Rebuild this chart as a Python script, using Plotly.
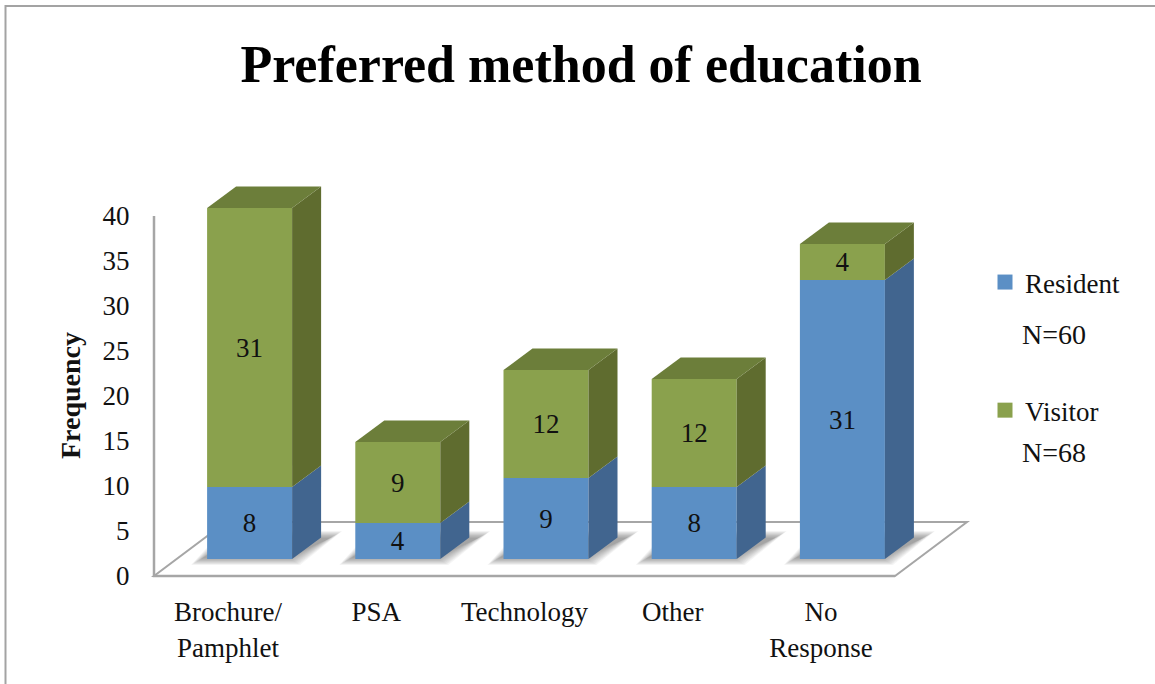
import plotly.graph_objects as go

categories = ["Brochure/<br>Pamphlet", "PSA", "Technology", "Other", "No<br>Response"]
resident = [8, 4, 9, 8, 31]
visitor = [31, 9, 12, 12, 4]
y_ticks = [0, 5, 10, 15, 20, 25, 30, 35, 40]

W, H = 1155, 684
PX0, PX1 = 154, 895      # x axis pixel span
PY0, PY1 = 576, 216      # y axis pixel span
XU = (PX1 - PX0) / 5     # px per category
YU = (PY0 - PY1) / 40    # px per value unit

FONT = "Liberation Serif"
FS = 27
INK = "#111111"
BLUE, BLUE_SIDE = "#5b8fc5", "#41658f"
GREEN, GREEN_TOP, GREEN_SIDE = "#8aa14d", "#6c7e3a", "#5f6c2f"
GRAY = "#a6a6a6"

bar_w = 85 / XU
dx = 29 / XU
dy = 21.5 / YU
floor_dx = 72 / XU
floor_dy = 54 / YU
off_x = 21.5 / XU
lift = 17 / YU

idx = list(range(len(categories)))
centers = [i + off_x for i in idx]

# axes cover the whole picture so the 3D faces are not clipped
x_range = [-0.5 - PX0 / XU, -0.5 + (W - PX0) / XU]
y_range = [-(H - PY0) / YU, PY0 / YU]

fig = go.Figure()


def poly(xs, ys, color):
    fig.add_trace(go.Scatter(x=xs + xs[:1], y=ys + ys[:1], mode="lines", fill="toself",
                             fillcolor=color, line=dict(width=0), hoverinfo="skip",
                             showlegend=False))


def path_of(xs, ys, close=True):
    return "M " + " L ".join(f"{a},{b}" for a, b in zip(xs, ys)) + (" Z" if close else "")


fig.add_trace(go.Bar(x=centers, y=resident, base=[lift] * 5, width=bar_w, name="Resident",
                     marker=dict(color=BLUE, line=dict(width=0)), text=resident,
                     textposition="inside", insidetextanchor="middle", textangle=0,
                     textfont=dict(family=FONT, size=FS, color=INK), showlegend=False))
fig.add_trace(go.Bar(x=centers, y=visitor, base=[lift + r for r in resident], width=bar_w,
                     name="Visitor", marker=dict(color=GREEN, line=dict(width=0)), text=visitor,
                     textposition="inside", insidetextanchor="middle", textangle=0,
                     textfont=dict(family=FONT, size=FS, color=INK), showlegend=False))

shapes = []
# floor
fx = [-0.5, 4.5, 4.5 + floor_dx, -0.5 + floor_dx]
fy = [0, 0, floor_dy, floor_dy]
shapes.append(dict(type="path", path=path_of(fx, fy), xref="x", yref="y", layer="below",
                   fillcolor="white", line=dict(color=GRAY, width=2)))

# soft floor shadow and 3D faces
for c, r, v in zip(centers, resident, visitor):
    x0, x1 = c - bar_w / 2, c + bar_w / 2
    for k in range(12):
        g = k * 1.1
        sx = [x0 + (-16 + g) / XU, x1 + (8 - g) / XU, x1 + (50 - g) / XU, x0 + (15 + g) / XU]
        sy = [lift + (-6 + g * 0.6) / YU, lift + (-6 + g * 0.6) / YU,
              lift + (28 - g * 0.6) / YU, lift + (28 - g * 0.6) / YU]
        shapes.append(dict(type="path", path=path_of(sx, sy), xref="x", yref="y", layer="below",
                           fillcolor="rgba(80,80,80,0.06)", line=dict(width=0)))
    y1 = lift + r
    y2 = y1 + v
    poly([x1, x1 + dx, x1 + dx, x1], [lift, lift + dy, y1 + dy, y1], BLUE_SIDE)
    poly([x1, x1 + dx, x1 + dx, x1], [y1, y1 + dy, y2 + dy, y2], GREEN_SIDE)
    poly([x0, x1, x1 + dx, x0 + dx], [y2, y2, y2 + dy, y2 + dy], GREEN_TOP)

# axis lines
shapes.append(dict(type="path", path=path_of([-0.5, -0.5, 4.5], [y_ticks[-1], 0, 0], close=False),
                   xref="x", yref="y", layer="below", line=dict(color=GRAY, width=2.5)))

# outer chart frame (open at right and bottom, running off the picture)
shapes.append(dict(type="path", path=f"M {5.5 / W},0 L {5.5 / W},{1 - 6 / H} L 1,{1 - 6 / H}",
                   xref="paper", yref="paper", line=dict(color="#a3a3a3", width=2)))

# legend entries
for name, col in (("Resident", BLUE), ("Visitor", GREEN)):
    fig.add_trace(go.Scatter(x=[None], y=[None], mode="markers", name=name, legendgroup=name,
                             marker=dict(symbol="square", size=15, color=col)))

for txt, py in (("N=60", 335), ("N=68", 453)):
    fig.add_annotation(text=txt, xref="paper", yref="paper", x=1020 / W, y=1 - py / H, xanchor="left",
                       yanchor="middle", showarrow=False, font=dict(family=FONT, size=28, color=INK))
fig.add_annotation(text="<b>Frequency</b>", xref="paper", yref="paper", x=70 / W, y=1 - 396 / H,
                   xanchor="center", yanchor="middle", textangle=-90, showarrow=False,
                   font=dict(family=FONT, size=28, color=INK))

fig.update_layout(
    width=W, height=H, margin=dict(l=0, r=0, t=0, b=0), autosize=False,
    paper_bgcolor="white", plot_bgcolor="rgba(0,0,0,0)", barmode="overlay", shapes=shapes,
    title=dict(text="<b>Preferred method of education</b>", x=581 / W, y=1 - 64 / H, xref="paper",
               yref="container", xanchor="center", yanchor="middle",
               font=dict(family=FONT, size=52, color="black")),
    xaxis=dict(domain=[0, 1], range=x_range, anchor="free", position=1 - PY0 / H, automargin=False,
               tickmode="array", tickvals=idx, ticktext=categories, showgrid=False, zeroline=False,
               showline=False, ticks="outside", ticklen=12, tickcolor="rgba(0,0,0,0)",
               tickfont=dict(family=FONT, size=FS, color=INK), tickangle=0),
    yaxis=dict(domain=[0, 1], range=y_range, anchor="free", position=PX0 / W, automargin=False,
               tickmode="array", tickvals=y_ticks, showgrid=False, zeroline=False, showline=False,
               ticks="outside", ticklen=19, tickcolor="rgba(0,0,0,0)",
               tickfont=dict(family=FONT, size=FS, color=INK)),
    legend=dict(x=985 / W, y=1 - 258 / H, xanchor="left", yanchor="top", bgcolor="rgba(0,0,0,0)",
                tracegroupgap=90, traceorder="grouped", font=dict(family=FONT, size=FS, color=INK)),
    showlegend=True,
)

fig.write_html("out.html", config={"displayModeBar": False},
               post_script="document.body.style.margin='0';document.body.style.overflow='hidden';")
